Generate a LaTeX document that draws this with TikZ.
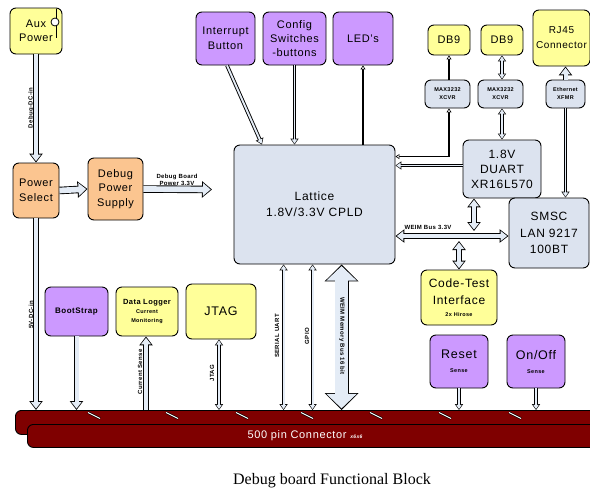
\documentclass[tikz,border=0pt]{standalone}
\usepackage{fontspec}
\setmainfont{Liberation Sans}[LetterSpace=6]
\newfontfamily\capfont{Liberation Serif}
\usetikzlibrary{arrows.meta}
\definecolor{ylw}{HTML}{FFFF99}
\definecolor{org}{HTML}{FBC590}
\definecolor{prp}{HTML}{CC99FF}
\definecolor{bgr}{HTML}{DCE3EF}
\definecolor{afill}{HTML}{E4ECF6}
\definecolor{conred}{HTML}{7F0000}
\tikzset{
  box/.style={draw=black, line width=0.9pt, rounded corners=6pt, align=center, inner sep=1pt, font=\fontsize{11}{14.5}\selectfont},
  ybox/.style={box, fill=ylw},
  obox/.style={box, fill=org},
  pbox/.style={box, fill=prp},
  gbox/.style={box, fill=bgr},
  bigtxt/.style={font=\fontsize{12}{16}\selectfont},
  lbl/.style={font=\fontsize{6}{7}\selectfont\bfseries, inner sep=0.5pt, align=center},
  tA/.style={draw=afill, line width=1.9pt, shorten >=1pt, -{Triangle[length=4.2pt,width=5.4pt]},
     preaction={draw=black, line width=3.7pt, shorten >=0pt, -{Triangle[length=6pt,width=8pt]}}},
  tAA/.style={draw=afill, line width=1.9pt, shorten >=1pt, shorten <=1pt, {Triangle[length=4.2pt,width=5.4pt]}-{Triangle[length=4.2pt,width=5.4pt]},
     preaction={draw=black, line width=3.7pt, shorten >=0pt, shorten <=0pt, {Triangle[length=6pt,width=8pt]}-{Triangle[length=6pt,width=8pt]}}},
  mA/.style={draw=afill, line width=4pt, shorten >=1.4pt, -{Triangle[length=6.6pt,width=9.8pt]},
     preaction={draw=black, line width=5.8pt, shorten >=0pt, -{Triangle[length=9pt,width=13pt]}}},
  mAA/.style={draw=afill, line width=4pt, shorten >=1.4pt, shorten <=1.4pt, {Triangle[length=6.6pt,width=9.8pt]}-{Triangle[length=6.6pt,width=9.8pt]},
     preaction={draw=black, line width=5.8pt, shorten >=0pt, shorten <=0pt, {Triangle[length=9pt,width=13pt]}-{Triangle[length=9pt,width=13pt]}}},
  lA/.style={draw=afill, line width=5.7pt, shorten >=1.4pt, -{Triangle[length=7.6pt,width=12.6pt]},
     preaction={draw=black, line width=7.5pt, shorten >=0pt, -{Triangle[length=10pt,width=16pt]}}},
  bAA/.style={draw=afill, line width=12.2pt, shorten >=1.6pt, shorten <=1.6pt, {Triangle[length=14.6pt,width=29.6pt]}-{Triangle[length=14.6pt,width=29.6pt]},
     preaction={draw=black, line width=14pt, shorten >=0pt, shorten <=0pt, {Triangle[length=17pt,width=33pt]}-{Triangle[length=17pt,width=33pt]}}},
  kA/.style={draw=black, line width=1.3pt, -{Triangle[open,fill=white,line width=0.6pt,length=4pt,width=5pt]}},
  kAA/.style={draw=black, line width=1.3pt, {Triangle[open,fill=white,line width=0.6pt,length=4pt,width=5pt]}-{Triangle[open,fill=white,line width=0.6pt,length=4pt,width=5pt]}},
  conbar/.style={draw=black, line width=0.9pt, fill=conred, rounded corners=6pt, inner sep=0pt},
}
\begin{document}
\begin{tikzpicture}[x=1pt,y=-1pt]
\useasboundingbox (0,0) rectangle (590,491);
% boxes
\node[ybox, minimum width=52pt, minimum height=46pt] (aux) at (36,31) {Aux\\Power};
\draw[line width=0.8pt] (56,9) -- (56,38);
\draw[line width=0.8pt, fill=white] (55,22) circle (4pt);
\node[obox, minimum width=46pt, minimum height=55pt] (psel) at (36,190.5) {Power\\Select};
\node[obox, minimum width=55pt, minimum height=62pt] (dps) at (115.5,189) {Debug\\Power\\Supply};
\node[pbox, minimum width=59pt, minimum height=53pt] (intr) at (225.5,38.5) {Interrupt\\Button};
\node[pbox, minimum width=63pt, minimum height=53pt, font=\fontsize{11}{14}\selectfont] (cfg) at (294.5,38.5) {Config\\Switches\\-buttons};
\node[pbox, minimum width=60pt, minimum height=53pt] (led) at (363,38.5) {LED's};
\node[gbox, bigtxt, minimum width=161pt, minimum height=119pt] (lat) at (314.5,204.5) {Lattice\\1.8V/3.3V CPLD};
\node[ybox, minimum width=42pt, minimum height=30pt] (db9a) at (449,40) {DB9};
\node[ybox, minimum width=42pt, minimum height=30pt] (db9b) at (502,40) {DB9};
\node[ybox, minimum width=57pt, minimum height=56pt, font=\fontsize{10}{15}\selectfont] (rj45) at (561.5,38) {RJ45\\Connector};
\node[gbox, minimum width=45pt, minimum height=28pt, font=\fontsize{5.5}{8}\selectfont\bfseries] (maxa) at (447.5,94) {MAX3232\\XCVR};
\node[gbox, minimum width=45pt, minimum height=28pt, font=\fontsize{5.5}{8}\selectfont\bfseries] (maxb) at (500.5,94) {MAX3232\\XCVR};
\node[gbox, minimum width=39pt, minimum height=28pt, font=\fontsize{5.5}{8}\selectfont\bfseries] (xfmr) at (565.5,94) {Ethernet\\XFMR};
\node[gbox, minimum width=78pt, minimum height=58pt, font=\fontsize{12}{15}\selectfont] (duart) at (502,169) {1.8V\\DUART\\XR16L570};
\node[gbox, minimum width=80pt, minimum height=70pt, font=\fontsize{12}{16.5}\selectfont] (smsc) at (549,233) {SMSC\\LAN 9217\\100BT};
\node[ybox, minimum width=76pt, minimum height=55pt, font=\fontsize{12}{17}\selectfont] (code) at (459,297.5) {Code-Test\\Interface\\[-5pt]{\fontsize{5.5}{7}\selectfont\bfseries 2x Hirose}};
\node[pbox, minimum width=58pt, minimum height=53pt, font=\fontsize{12.5}{14}\selectfont] (reset) at (459,361.5) {Reset\\{\fontsize{5.5}{7}\selectfont\bfseries Sense}};
\node[pbox, minimum width=58pt, minimum height=53pt, font=\fontsize{12.5}{14}\selectfont] (onoff) at (536,361.5) {On/Off\\{\fontsize{5.5}{7}\selectfont\bfseries Sense}};
\node[pbox, minimum width=63pt, minimum height=49pt, font=\fontsize{8}{10}\selectfont\bfseries] (boot) at (76.5,311.5) {BootStrap};
\node[ybox, minimum width=62pt, minimum height=49pt, font=\fontsize{7.5}{9}\selectfont\bfseries] (dlog) at (147,311.5) {Data Logger\\{\fontsize{5.5}{7}\selectfont Current}\\{\fontsize{5.5}{7}\selectfont Monitoring}};
\node[ybox, minimum width=70pt, minimum height=55pt, font=\fontsize{12.5}{15}\selectfont] (jtag) at (221,311.5) {JTAG};
% connector bars
\node[conbar, minimum width=585pt, minimum height=24pt, anchor=north west] (conn1) at (15,410) {};
\foreach \mx in {94,172,242,307,376,445,515}{
  \draw[black, line width=2.4pt] (\mx-6,412.5) -- (\mx-4,413.5) -- (\mx+4,417.5) -- (\mx+6,418.5);
  \draw[white, line width=1pt] (\mx-6,412.5) -- (\mx-4,413.5) -- (\mx+4,417.5) -- (\mx+6,418.5);
}
\node[conbar, minimum width=573pt, minimum height=23pt, anchor=north west, text=white, font=\fontsize{11}{13}\selectfont] (conn2) at (27,424) {\hspace*{-18pt}500 pin Connector {\fontsize{5}{6}\selectfont\itshape\bfseries x6x6}};
% connectors
\draw[mA] (aux.south) -- (psel.north);
\draw[lA] (psel.east) -- (dps.west);
\coordinate (pout) at (212,189.5);
\draw[lA] (dps.east) -- (pout);
\draw[mA] (psel.south) -- (psel.south |- conn1.north);
\draw[tA] ([xshift=1.5pt]intr.south) -- ([xshift=36.5pt]intr.south |- lat.north);
\draw[tA] (cfg.south) -- (cfg.south |- lat.north);
\draw[kA] (led.south |- lat.north) -- (led.south);
\draw[kA] (db9a.south |- maxa.north) -- (db9a.south);
\draw[kAA] (db9a.south |- maxa.south) |- ([yshift=-12pt]lat.north east);
\draw[tA] ([yshift=3.5pt]duart.west) -- ([yshift=3.5pt]duart.west -| lat.east);
\draw[tAA] (db9b.south |- maxb.north) -- (db9b.south);
\draw[tAA] (db9b.south |- maxb.south) -- (db9b.south |- duart.north);
\draw[mA] (xfmr.north) -- (xfmr.north |- rj45.south);
\draw[tA] (xfmr.south) -- (xfmr.south |- smsc.north);
\coordinate (busY) at (0,236);
\coordinate (busT) at (0,231);
\coordinate (busB) at (0,241);
\draw[mAA] (lat.east |- busY) -- (smsc.west |- busY);
\draw[mAA] ([xshift=-28pt]duart.south) -- ([xshift=-28pt]duart.south |- busT);
\draw[mAA] (code.north) -- (code.north |- busB);
\draw[tA] (reset.south) -- (reset.south |- conn1.north);
\draw[tA] (onoff.south) -- (onoff.south |- conn1.north);
\draw[mA] (boot.south) -- (boot.south |- conn1.north);
\draw[mA] ([xshift=-1pt]dlog.south |- conn1.north) -- ([xshift=-1pt]dlog.south);
\draw[tAA] ([xshift=-2pt]jtag.south) -- ([xshift=-2pt]jtag.south |- conn1.north);
\draw[tAA] ([xshift=50pt]lat.south west) -- ([xshift=50pt]lat.south west |- conn1.north);
\draw[tAA] ([xshift=79pt]lat.south west) -- ([xshift=79pt]lat.south west |- conn1.north);
\draw[bAA] ([xshift=108pt]lat.south west) -- ([xshift=108pt]lat.south west |- conn1.north);
% labels
\node[lbl, rotate=90] (l1) at (31,108) {Debug-DC-in};
\node[lbl, rotate=90] (l2) at (31,315) {5V-DC-in};
\node[lbl] (l3) at (177,180) {Debug Board\\Power 3.3V};
\node[lbl, rotate=90] (l4) at (140,372) {Current Sense};
\node[lbl, rotate=90] (l5) at (212,373) {JTAG};
\node[lbl, rotate=90] (l6) at (277,336) {SERIAL UART};
\node[lbl, rotate=90] (l7) at (307,336) {GPIO};
\node[lbl, rotate=-90] (l8) at (342,336) {WEIM Memory Bus 16 bit};
\node[lbl] (l9) at (428,227) {WEIM Bus 3.3V};
\node[font=\capfont\fontsize{16}{18}\selectfont] (cap) at (332,481) {Debug board Functional Block};
\end{tikzpicture}
\end{document}
